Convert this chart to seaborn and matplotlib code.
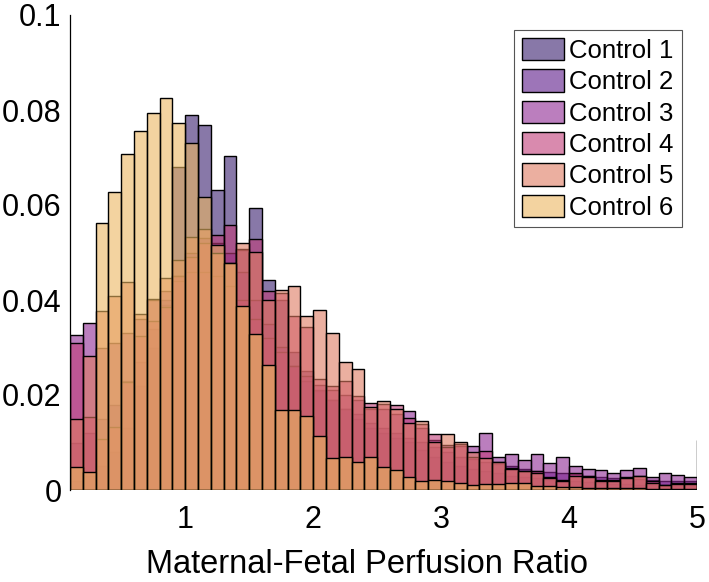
import numpy as np
import pandas as pd
import matplotlib
matplotlib.use("Agg")
import matplotlib.pyplot as plt
import seaborn as sns

# bin edges of the histograms (width 0.1, from 0.1 to 5.0)
edges = np.round(np.arange(0.1, 5.05, 0.1), 1)
centers = np.round(edges[:-1] + 0.05, 2)

labels = ["Control 1", "Control 2", "Control 3", "Control 4", "Control 5", "Control 6"]
colors = ["#391e6e", "#5c1a8a", "#8f2894", "#c03c78", "#df7b61", "#ebb761"]

control1 = [0.002, 0.003, 0.005, 0.008, 0.013, 0.022, 0.030, 0.039, 0.068, 0.079,
            0.0768, 0.0632, 0.0703, 0.0505, 0.0594, 0.0442, 0.0400, 0.0290, 0.0250, 0.0209,
            0.0190, 0.0170, 0.0150, 0.0130, 0.0120, 0.0110, 0.0100, 0.0085, 0.0070, 0.0060,
            0.0050, 0.0045, 0.0040, 0.0035, 0.0030, 0.0028, 0.0025, 0.0022, 0.0020, 0.0018,
            0.0016, 0.0015, 0.0013, 0.0012, 0.0011, 0.0010, 0.0009, 0.0008, 0.0008]
control2 = [0.010, 0.012, 0.015, 0.018, 0.023, 0.027, 0.034, 0.040, 0.045, 0.050,
            0.053, 0.052, 0.050, 0.046, 0.040, 0.035, 0.030, 0.026, 0.023, 0.021,
            0.019, 0.017, 0.016, 0.014, 0.013, 0.012, 0.011, 0.010, 0.009, 0.008,
            0.007, 0.0065, 0.006, 0.0055, 0.005, 0.0045, 0.004, 0.0038, 0.0035, 0.0033,
            0.003, 0.0028, 0.0026, 0.0025, 0.0024, 0.0022, 0.002, 0.002, 0.0019]
control3 = [0.0326, 0.0352, 0.030, 0.031, 0.033, 0.036, 0.040, 0.042, 0.044, 0.046,
            0.046, 0.045, 0.043, 0.040, 0.036, 0.032, 0.029, 0.026, 0.024, 0.022,
            0.021, 0.020, 0.019, 0.017, 0.017, 0.016, 0.0166, 0.013, 0.0105, 0.0095,
            0.0092, 0.0093, 0.0121, 0.0070, 0.0075, 0.0063, 0.0075, 0.0056, 0.0069, 0.0051,
            0.0044, 0.0042, 0.0035, 0.0042, 0.0046, 0.0028, 0.0035, 0.0032, 0.0028]
control4 = [0.031, 0.0154, 0.0107, 0.0133, 0.0227, 0.0324, 0.0356, 0.0385, 0.045, 0.049,
            0.052, 0.0537, 0.0558, 0.0508, 0.0528, 0.0418, 0.0414, 0.0367, 0.0344, 0.0234,
            0.0219, 0.0230, 0.0198, 0.0183, 0.0180, 0.0179, 0.0152, 0.0139, 0.0118, 0.0091,
            0.0097, 0.0069, 0.0083, 0.0060, 0.0047, 0.0041, 0.0039, 0.0027, 0.0021, 0.0035,
            0.0030, 0.0021, 0.0021, 0.0027, 0.0029, 0.0018, 0.0011, 0.0015, 0.0014]
control5 = [0.015, 0.0282, 0.0377, 0.0409, 0.0438, 0.037, 0.0402, 0.0446, 0.0484, 0.0533,
            0.055, 0.050, 0.0478, 0.052, 0.050, 0.040, 0.042, 0.043, 0.0367, 0.0379,
            0.033, 0.0269, 0.0255, 0.0175, 0.0187, 0.0170, 0.0140, 0.0146, 0.0100, 0.0117,
            0.0102, 0.0080, 0.0067, 0.0060, 0.0045, 0.0040, 0.0035, 0.0025, 0.0020, 0.0030,
            0.0028, 0.0020, 0.0020, 0.0025, 0.0030, 0.0015, 0.0010, 0.0013, 0.0012]
control6 = [0.0049, 0.0038, 0.0562, 0.0628, 0.0707, 0.0756, 0.0793, 0.0825, 0.0773, 0.073,
            0.0617, 0.0515, 0.0478, 0.0387, 0.0328, 0.0263, 0.0168, 0.0168, 0.0156, 0.0114,
            0.0067, 0.0069, 0.0060, 0.0070, 0.0049, 0.0042, 0.0028, 0.0018, 0.0021, 0.0018,
            0.0015, 0.0010, 0.0013, 0.0013, 0.0015, 0.0015, 0.0008, 0.0009, 0.0007, 0.0006,
            0.0005, 0.0005, 0.0005, 0.0004, 0.0004, 0.0003, 0.0003, 0.0003, 0.0003]

series = [control1, control2, control3, control4, control5, control6]

# thin overflow spike drawn at the right edge
spike_x = [5.0]
spike_h = [0.0105]

sns.set_style("white")
plt.rcParams["font.family"] = ["Liberation Sans", "DejaVu Sans"]
plt.rcParams["text.color"] = "black"
plt.rcParams["xtick.color"] = "black"
plt.rcParams["ytick.color"] = "black"
plt.rcParams["axes.labelcolor"] = "black"

fig = plt.figure(figsize=(7.09, 5.82), dpi=100)
ax = fig.add_axes([70 / 709, 92 / 582, 627 / 709, 475 / 582])

for name, vals, c in zip(labels, series, colors):
    df = pd.DataFrame({"ratio": centers, "p": vals})
    sns.histplot(data=df, x="ratio", weights="p", bins=list(edges), color=c, alpha=0.6,
                 edgecolor="black", linewidth=1.0, label=name, ax=ax)

ax.vlines(spike_x, 0, spike_h, color="black", linewidth=1.0)

ax.set_xlim(0.1, 5)
ax.set_ylim(0, 0.1)
ax.set_xticks([1, 2, 3, 4, 5])
ax.set_xticklabels(["1", "2", "3", "4", "5"])
ax.set_yticks([0, 0.02, 0.04, 0.06, 0.08, 0.1])
ax.set_yticklabels(["0", "0.02", "0.04", "0.06", "0.08", "0.1"])
ax.tick_params(axis="both", labelsize=22, direction="in", length=5, width=0.8, pad=6)
ax.tick_params(axis="x", length=0, pad=11)
ax.set_xlabel("Maternal-Fetal Perfusion Ratio", fontsize=23.5)
ax.xaxis.set_label_coords(0.473, -0.125)
ax.set_ylabel("")

for s in ["top", "right", "bottom"]:
    ax.spines[s].set_visible(False)
ax.spines["left"].set_color("black")
ax.spines["left"].set_linewidth(0.9)

leg = ax.legend(loc="upper right", fontsize=18.5, frameon=True, fancybox=False,
                edgecolor="#555555", framealpha=1, handlelength=1.65, handleheight=0.95,
                handletextpad=0.2, labelspacing=0.25, borderpad=0.3, borderaxespad=0.6)
leg.get_frame().set_linewidth(0.8)

fig.savefig("out.png", dpi=100)
